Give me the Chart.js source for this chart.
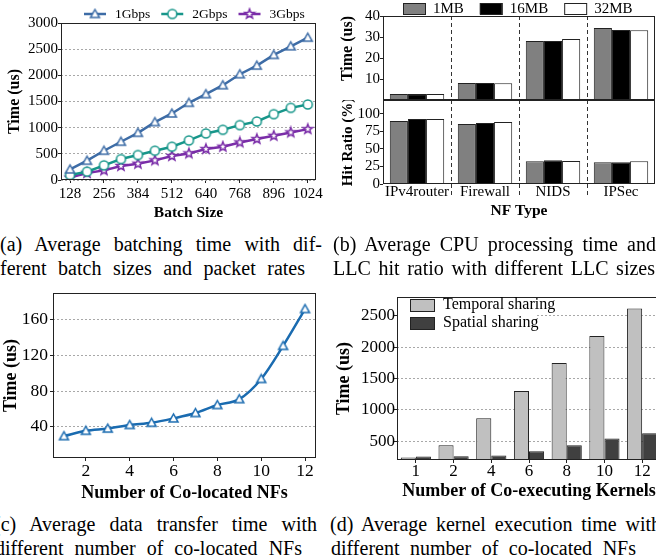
<!DOCTYPE html>
<html>
<head>
<meta charset="utf-8">
<script src="https://cdn.jsdelivr.net/npm/chart.js@4.4.1/dist/chart.umd.min.js"></script>
<style>
  html, body { margin: 0; padding: 0; background: #fff; }
  body { width: 656px; height: 560px; position: relative; overflow: hidden; font-family: 'Liberation Serif', 'Times New Roman', serif; }
  canvas { position: absolute; }
  .cap { position: absolute; font-size: 20px; line-height: 24px; color: #000; text-align: justify; text-align-last: justify; }
</style>
</head>
<body>
<canvas id="chartA" width="330" height="225" style="left:0;top:0"></canvas>
<canvas id="chartBTime" width="326" height="101" style="left:330px;top:0"></canvas>
<canvas id="chartBHit" width="326" height="125" style="left:330px;top:100px"></canvas>
<canvas id="chartC" width="330" height="225" style="left:0;top:280px"></canvas>
<canvas id="chartD" width="336" height="225" style="left:330px;top:280px"></canvas>

<div class="cap" style="left:0;top:232px;width:322px">(a) Average batching time with dif-</div>
<div class="cap" style="left:0;top:256px;width:305px">ferent batch sizes and packet rates</div>
<div class="cap" style="left:333px;top:232px;width:323px">(b) Average CPU processing time and</div>
<div class="cap" style="left:333px;top:256px;width:322px">LLC hit ratio with different LLC sizes</div>
<div class="cap" style="left:-6px;top:512px;width:323px">(c) Average data transfer time with</div>
<div class="cap" style="left:-5px;top:536px;width:307px">different number of co-located NFs</div>
<div class="cap" style="left:330px;top:512px;width:331px">(d) Average kernel execution time with</div>
<div class="cap" style="left:331px;top:536px;width:305px">different number of co-located NFs</div>

<script>
// (a) batching time
const batchSizes = [128, 192, 256, 320, 384, 448, 512, 576, 640, 704, 768, 832, 896, 960, 1024];
const time1G = [203, 369, 559, 731, 902, 1106, 1271, 1475, 1640, 1811, 2021, 2186, 2390, 2555, 2720];
const time2G = [95, 159, 280, 400, 477, 559, 636, 756, 890, 960, 1049, 1119, 1258, 1379, 1443];
const time3G = [45, 133, 184, 267, 311, 375, 458, 508, 591, 636, 718, 782, 845, 909, 972];
const aXTicks = [128, 256, 384, 512, 640, 768, 896, 1024];
const aYTicks = [0, 500, 1000, 1500, 2000, 2500, 3000];

// (b) CPU time and LLC hit ratio
const nfTypes = ['IPv4router', 'Firewall', 'NIDS', 'IPSec'];
const cpu1MB = [2.8, 8.1, 28.1, 34.3];
const cpu16MB = [2.8, 8.1, 28.1, 33.3];
const cpu32MB = [2.9, 8.0, 29.0, 33.2];
const hit1MB = [90, 85.7, 32.4, 31];
const hit16MB = [93, 87, 33.8, 31];
const hit32MB = [93, 88.5, 32.9, 32.4];
const bTimeTicks = [10, 20, 30, 40];
const bHitTicks = [0, 25, 50, 75, 100];

// (c) data transfer time
const nfCounts = [1, 2, 3, 4, 5, 6, 7, 8, 9, 10, 11, 12];
const transferTime = [29.5, 35.5, 38, 42, 44.5, 49.4, 55.4, 64.4, 71, 93.6, 130.7, 172];
const cXTicks = [2, 4, 6, 8, 10, 12];
const cYTicks = [40, 80, 120, 160];

// (d) kernel execution time
const kernelCounts = ['1', '2', '4', '6', '8', '10', '12'];
const temporalTime = [240, 436, 865, 1299, 1749, 2177, 2616];
const spatialTime = [255, 260, 272, 341, 436, 542, 627];
const dYTicks = [500, 1000, 1500, 2000, 2500];

const serif = "'Liberation Serif', 'Times New Roman', serif";
Chart.defaults.font.family = serif;
Chart.defaults.color = '#000';

function fixY(width) {
    return s => { s.width = width; s.paddingTop = 0; s.paddingBottom = 0; };
}
function fixX(height) {
    return s => { s.height = height; s.paddingLeft = 0; s.paddingRight = 0; };
}
function useTicks(values) {
    return s => { s.ticks = values.map(v => ({ value: v })); };
}
function font(size, bold) {
    return { family: serif, size: size, weight: bold ? 'bold' : 'normal', lineHeight: 1 };
}
const plain = v => String(v);

function makeMarker(kind, color, r) {
    const size = Math.ceil(r * 2 + 4);
    const cv = document.createElement('canvas');
    cv.width = size;
    cv.height = size;
    const g = cv.getContext('2d');
    const c = size / 2;
    g.beginPath();
    if (kind === 'triangle') {
        g.moveTo(c, c - r);
        g.lineTo(c + r, c + r * 0.8);
        g.lineTo(c - r, c + r * 0.8);
        g.closePath();
    } else if (kind === 'circle') {
        g.arc(c, c, r, 0, Math.PI * 2);
    } else {
        for (let k = 0; k < 10; k++) {
            const rr = k % 2 ? r * 0.42 : r;
            const a = -Math.PI / 2 + k * Math.PI / 5;
            g.lineTo(c + rr * Math.cos(a), c + rr * Math.sin(a));
        }
        g.closePath();
    }
    g.fillStyle = '#fff';
    g.fill();
    g.lineWidth = 1.5;
    g.strokeStyle = color;
    g.stroke();
    return cv;
}

// spines round the plot area
const framePlugin = {
    id: 'frame',
    afterDatasetsDraw(chart) {
        const { ctx, chartArea: a } = chart;
        ctx.save();
        ctx.strokeStyle = '#222';
        ctx.lineWidth = 1;
        ctx.strokeRect(Math.round(a.left) + 0.5, Math.round(a.top) + 0.5,
            Math.round(a.right - a.left) - 1, Math.round(a.bottom - a.top) - 1);
        ctx.restore();
    }
};

function createBatchChart() {
    const colors = ['#3d6ca6', '#17968a', '#7a2da8'];
    const kinds = ['triangle', 'circle', 'star'];
    const labels = ['1Gbps', '2Gbps', '3Gbps'];
    const series = [time1G, time2G, time3G];

    const datasets = series.map((ys, k) => ({
        label: labels[k],
        data: batchSizes.map((x, i) => ({ x: x, y: ys[i] })),
        borderColor: colors[k],
        borderWidth: 2.5,
        pointStyle: makeMarker(kinds[k], colors[k], kinds[k] === 'star' ? 5 : 4.5),
        pointRadius: 4,
        tension: 0
    }));

    const legendA = {
        id: 'legendA',
        afterDraw(chart) {
            const ctx = chart.ctx;
            ctx.save();
            ctx.font = '13.5px ' + serif;
            ctx.textBaseline = 'middle';
            let x = 84;
            const y = 14;
            chart.data.datasets.forEach(ds => {
                ctx.strokeStyle = ds.borderColor;
                ctx.lineWidth = ds.borderWidth;
                ctx.beginPath();
                ctx.moveTo(x, y);
                ctx.lineTo(x + 22, y);
                ctx.stroke();
                const m = ds.pointStyle;
                ctx.drawImage(m, x + 11 - m.width / 2, y - m.height / 2);
                ctx.fillStyle = '#000';
                ctx.fillText(ds.label, x + 31, y);
                x += 31 + ctx.measureText(ds.label).width + 11;
            });
            ctx.restore();
        }
    };

    return new Chart(document.getElementById('chartA'), {
        type: 'line',
        data: { datasets: datasets },
        options: {
            animation: false,
            responsive: false,
            layout: { padding: { top: 23, right: 14, left: 0, bottom: 0 } },
            plugins: { legend: { display: false }, tooltip: { enabled: false } },
            scales: {
                x: {
                    type: 'linear', min: 94, max: 1055,
                    afterBuildTicks: useTicks(aXTicks), afterFit: fixX(45),
                    border: { display: false },
                    grid: { drawOnChartArea: false, tickLength: 3, tickColor: '#222' },
                    ticks: { font: font(15), padding: 3.5, maxRotation: 0, callback: plain },
                    title: { display: true, text: 'Batch Size', font: font(15.5, true), padding: { top: 0, bottom: 4 } }
                },
                y: {
                    min: 0, max: 3000,
                    afterBuildTicks: useTicks(aYTicks), afterFit: fixY(61),
                    border: { display: false, dash: [2, 2] },
                    grid: { color: '#a8a8a8', tickLength: 3, tickColor: '#222', tickBorderDash: [] },
                    ticks: { font: font(15), padding: 0, callback: plain },
                    title: { display: true, text: 'Time (us)', font: font(16, true), padding: { top: 7, bottom: 0 } }
                }
            }
        },
        plugins: [framePlugin, legendA]
    });
}

function createLlcCharts() {
    const fills = ['#808080', '#000000', '#ffffff'];
    const sizes = ['1MB', '16MB', '32MB'];
    const sep = ctx => (ctx.type === 'tick' && ctx.index > 0) ? '#333' : 'rgba(0,0,0,0)';

    function barSets(series) {
        return series.map((vals, k) => ({
            label: sizes[k],
            data: vals,
            backgroundColor: fills[k],
            borderColor: '#222',
            borderWidth: 1,
            categoryPercentage: 0.8,
            barPercentage: 1.0
        }));
    }

    const legendB = {
        id: 'legendB',
        afterDraw(chart) {
            const ctx = chart.ctx;
            ctx.save();
            ctx.font = '15px ' + serif;
            ctx.textBaseline = 'middle';
            let x = 73;
            chart.data.datasets.forEach(ds => {
                ctx.fillStyle = ds.backgroundColor;
                ctx.fillRect(x, 3, 22, 11);
                ctx.strokeStyle = '#222';
                ctx.lineWidth = 1;
                ctx.strokeRect(x + 0.5, 3.5, 22, 11);
                ctx.fillStyle = '#000';
                ctx.fillText(ds.label, x + 30, 9.5);
                x += 30 + ctx.measureText(ds.label).width + 16;
            });
            ctx.restore();
        }
    };

    const timeChart = new Chart(document.getElementById('chartBTime'), {
        type: 'bar',
        data: { labels: nfTypes, datasets: barSets([cpu1MB, cpu16MB, cpu32MB]) },
        options: {
            animation: false,
            responsive: false,
            layout: { padding: { top: 16, right: 1, left: 0, bottom: 1 } },
            plugins: { legend: { display: false }, tooltip: { enabled: false } },
            scales: {
                x: {
                    afterFit: fixX(0),
                    border: { display: false, dash: [4, 3] },
                    grid: { color: sep, drawTicks: false },
                    ticks: { display: false }
                },
                y: {
                    min: 0, max: 40,
                    afterBuildTicks: useTicks(bTimeTicks), afterFit: fixY(53),
                    border: { display: false },
                    grid: { drawOnChartArea: false, tickLength: 3, color: '#222' },
                    ticks: { font: font(15), padding: 0 },
                    title: { display: true, text: 'Time (us)', align: 'end', font: font(16, true), padding: { top: 10, bottom: 0 } }
                }
            }
        },
        plugins: [framePlugin, legendB]
    });

    const hitChart = new Chart(document.getElementById('chartBHit'), {
        type: 'bar',
        data: { labels: nfTypes, datasets: barSets([hit1MB, hit16MB, hit32MB]) },
        options: {
            animation: false,
            responsive: false,
            layout: { padding: { top: 0, right: 1, left: 0, bottom: 0 } },
            plugins: { legend: { display: false }, tooltip: { enabled: false } },
            scales: {
                x: {
                    afterFit: fixX(41),
                    border: { display: false, dash: [4, 3] },
                    grid: { color: sep, tickColor: sep, tickLength: 12, tickBorderDash: [4, 3] },
                    ticks: { font: font(15), padding: -11, maxRotation: 0 },
                    title: { display: true, text: 'NF Type', font: font(15.5, true), padding: { top: 0, bottom: 6 } }
                },
                y: {
                    min: 0, max: 120,
                    afterBuildTicks: useTicks(bHitTicks), afterFit: fixY(53),
                    border: { display: false },
                    grid: { drawOnChartArea: false, tickLength: 3, color: '#222' },
                    ticks: { font: font(15), padding: 0 },
                    title: { display: true, text: 'Hit Ratio (%)', font: font(15, true), padding: { top: 10.5, bottom: 0 } }
                }
            }
        },
        plugins: [framePlugin]
    });

    return [timeChart, hitChart];
}

function createTransferChart() {
    const color = '#1a6bb0';
    return new Chart(document.getElementById('chartC'), {
        type: 'line',
        data: {
            datasets: [{
                label: 'Transfer time',
                data: nfCounts.map((x, i) => ({ x: x, y: transferTime[i] })),
                borderColor: color,
                borderWidth: 2.5,
                pointStyle: makeMarker('triangle', color, 4.5),
                pointRadius: 4,
                cubicInterpolationMode: 'monotone'
            }]
        },
        options: {
            animation: false,
            responsive: false,
            layout: { padding: { top: 13, right: 14, left: 0, bottom: 0 } },
            plugins: { legend: { display: false }, tooltip: { enabled: false } },
            scales: {
                x: {
                    type: 'linear', min: 0.5, max: 12.5,
                    afterBuildTicks: useTicks(cXTicks), afterFit: fixX(47),
                    border: { display: false },
                    grid: { drawOnChartArea: false, tickLength: 3, tickColor: '#222' },
                    ticks: { font: font(17.5), padding: 2, maxRotation: 0, callback: plain },
                    title: { display: true, text: 'Number of Co-located NFs', font: font(18, true), padding: { top: 0, bottom: 3 } }
                },
                y: {
                    min: 5, max: 190,
                    afterBuildTicks: useTicks(cYTicks), afterFit: fixY(53),
                    border: { display: false, dash: [2, 2] },
                    grid: { color: '#a8a8a8', tickLength: 3, tickColor: '#222', tickBorderDash: [] },
                    ticks: { font: font(17.5), padding: 2, callback: plain },
                    title: { display: true, text: 'Time (us)', font: font(18, true), padding: { top: 2, bottom: 0 } }
                }
            }
        },
        plugins: [framePlugin]
    });
}

function createKernelChart() {
    const legendD = {
        id: 'legendD',
        afterDatasetsDraw(chart) {
            const ctx = chart.ctx;
            const a = chart.chartArea;
            ctx.save();
            ctx.fillStyle = '#fff';
            ctx.fillRect(a.left + 1, a.top + 1, 205 - a.left, 36);
            ctx.font = '16px ' + serif;
            ctx.textBaseline = 'middle';
            chart.data.datasets.forEach((ds, k) => {
                const y = 19 + k * 18;
                ctx.fillStyle = ds.backgroundColor;
                ctx.fillRect(80, y, 24, 12);
                ctx.strokeStyle = '#222';
                ctx.lineWidth = 1;
                ctx.strokeRect(80.5, y + 0.5, 24, 12);
                ctx.fillStyle = '#000';
                ctx.fillText(ds.label, 113, y + 6);
            });
            ctx.restore();
        }
    };

    return new Chart(document.getElementById('chartD'), {
        type: 'bar',
        data: {
            labels: kernelCounts,
            datasets: [
                { label: 'Temporal sharing', data: temporalTime, backgroundColor: '#c0c0c0', borderColor: '#222', borderWidth: 1, categoryPercentage: 0.8, barPercentage: 1.0 },
                { label: 'Spatial sharing', data: spatialTime, backgroundColor: '#404040', borderColor: '#222', borderWidth: 1, categoryPercentage: 0.8, barPercentage: 1.0 }
            ]
        },
        options: {
            animation: false,
            responsive: false,
            layout: { padding: { top: 17, right: 5, left: 0, bottom: 0 } },
            plugins: { legend: { display: false }, tooltip: { enabled: false } },
            scales: {
                x: {
                    afterFit: fixX(45),
                    border: { display: false },
                    grid: { offset: false, drawOnChartArea: false, tickLength: 3, tickColor: '#222' },
                    ticks: { font: font(17), padding: 0.5, maxRotation: 0 },
                    title: { display: true, text: 'Number of Co-executing Kernels', font: font(18, true), padding: { top: 0, bottom: 5 } }
                },
                y: {
                    min: 200, max: 2800,
                    afterBuildTicks: useTicks(dYTicks), afterFit: fixY(67),
                    border: { display: false, dash: [2, 2] },
                    grid: { color: '#a8a8a8', tickLength: 3, tickColor: '#222', tickBorderDash: [] },
                    ticks: { font: font(17), padding: -1, callback: plain },
                    title: { display: true, text: 'Time (us)', font: font(18, true), padding: { top: 5, bottom: 0 } }
                }
            }
        },
        plugins: [framePlugin, legendD]
    });
}

function init() {
    createBatchChart();
    createLlcCharts();
    createTransferChart();
    createKernelChart();
}

init();
</script>
</body>
</html>
